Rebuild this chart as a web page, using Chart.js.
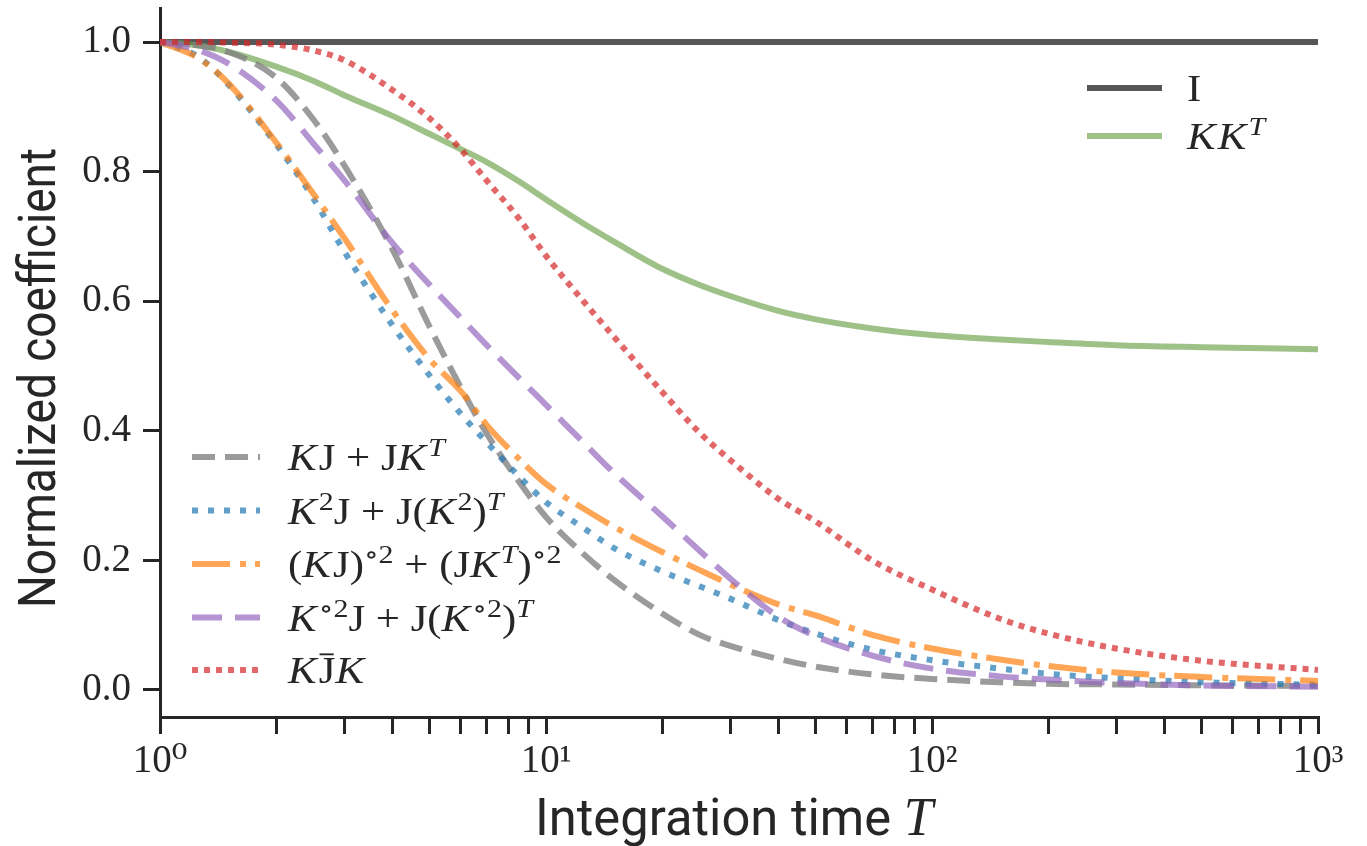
<!DOCTYPE html>
<html><head><meta charset="utf-8">
<script src="https://cdn.jsdelivr.net/npm/chart.js@4.4.1/dist/chart.umd.min.js"></script>
<style>html,body{margin:0;padding:0;background:#fff;}#wrap{width:1367px;height:846px;position:relative;}</style>
</head><body><div id="wrap"><canvas id="c"></canvas></div>
<script>
// ---- data ----
const T        = [1, 1.25, 1.5, 2, 2.5, 3, 4, 5, 6, 7, 8.5, 10, 12.5, 15, 20, 25, 30, 40, 50, 70, 100, 150, 200, 300, 500, 1000];
const yI       = [1, 1, 1, 1, 1, 1, 1, 1, 1, 1, 1, 1, 1, 1, 1, 1, 1, 1, 1, 1, 1, 1, 1, 1, 1, 1];
const yKKT     = [1.0, 0.995, 0.985, 0.962, 0.94, 0.918, 0.886, 0.858, 0.835, 0.815, 0.785, 0.757, 0.72, 0.692, 0.65, 0.625, 0.608, 0.585, 0.572, 0.558, 0.548, 0.541, 0.537, 0.532, 0.529, 0.526];
const yKJ      = [1.0, 0.995, 0.985, 0.945, 0.88, 0.81, 0.68, 0.56, 0.468, 0.397, 0.322, 0.267, 0.21, 0.17, 0.118, 0.085, 0.068, 0.048, 0.036, 0.024, 0.017, 0.012, 0.0095, 0.0085, 0.0072, 0.006];
const yK2J     = [1.0, 0.978, 0.935, 0.842, 0.758, 0.677, 0.563, 0.485, 0.427, 0.383, 0.33, 0.29, 0.25, 0.219, 0.183, 0.16, 0.141, 0.108, 0.087, 0.062, 0.046, 0.033, 0.025, 0.018, 0.012, 0.008];
const yKJsq    = [1.0, 0.976, 0.937, 0.845, 0.765, 0.698, 0.586, 0.51, 0.462, 0.41, 0.357, 0.318, 0.28, 0.252, 0.213, 0.185, 0.163, 0.132, 0.115, 0.085, 0.064, 0.047, 0.037, 0.027, 0.02, 0.014];
const yKsqJ    = [1.0, 0.988, 0.967, 0.91, 0.843, 0.787, 0.69, 0.625, 0.575, 0.533, 0.482, 0.44, 0.382, 0.335, 0.268, 0.215, 0.172, 0.113, 0.083, 0.053, 0.033, 0.021, 0.016, 0.011, 0.007, 0.005];
const yKJbarK  = [1.0, 1.0, 0.999, 0.996, 0.987, 0.972, 0.926, 0.882, 0.835, 0.787, 0.728, 0.67, 0.6, 0.545, 0.46, 0.397, 0.355, 0.295, 0.26, 0.2, 0.155, 0.11, 0.087, 0.064, 0.045, 0.031];

const yTicks = [0.0, 0.2, 0.4, 0.6, 0.8, 1.0];
const xMajor = [1, 10, 100, 1000];
const xTickLabels = ['10⁰', '10¹', '10²', '10³'];
const xTitle = 'Integration time ';
const xTitleVar = 'T';
const yTitle = 'Normalized coefficient';

// rich legend labels: [text, flags] i=italic, s=superscript, b=overbar
const lblI    = [['I']];
const lblKKT  = [['K','i'],['K','i'],['T','is']];
const lblKJ   = [['K','i'],['J'],[' + '],['J'],['K','i'],['T','is']];
const lblK2J  = [['K','i'],['2','s'],['J'],[' + '],['J('],['K','i'],['2','s'],[')'],['T','is']];
const lblKJsq = [['('],['K','i'],['J)'],['∘2','s'],[' + ('],['J'],['K','i'],['T','is'],[')'],['∘2','s']];
const lblKsqJ = [['K','i'],['∘2','s'],['J'],[' + '],['J('],['K','i'],['∘2','s'],[')'],['T','is']];
const lblKJK  = [['K','i'],['J','b'],['K','i']];

const pts = ys => T.map((t, i) => ({x: t, y: ys[i]}));
const LW = 6;
const datasets = [
  {label:'KJ̄K', data: pts(yKJbarK), borderColor:'rgba(214,39,40,0.7)', borderDash:[6,6], rich: lblKJK},
  {label:'K∘²J + J(K∘²)ᵀ', data: pts(yKsqJ), borderColor:'rgba(148,103,189,0.7)', borderDash:[30,13], rich: lblKsqJ},
  {label:'(KJ)∘² + (JKᵀ)∘²', data: pts(yKJsq), borderColor:'rgba(255,127,14,0.7)', borderDash:[38,10,6,9], rich: lblKJsq},
  {label:'K²J + J(K²)ᵀ', data: pts(yK2J), borderColor:'rgba(31,119,180,0.7)', borderDash:[6,10], rich: lblK2J},
  {label:'KJ + JKᵀ', data: pts(yKJ), borderColor:'rgba(127,127,127,0.78)', borderDash:[23,10], rich: lblKJ},
  {label:'KKᵀ', data: pts(yKKT), borderColor:'rgba(106,160,72,0.65)', borderDash:[], rich: lblKKT},
  {label:'I', data: pts(yI), borderColor:'#575757', borderDash:[], rich: lblI}
].map(d => Object.assign(d, {borderWidth: LW, pointRadius: 0, fill: false, cubicInterpolationMode: 'monotone', borderCapStyle: 'butt'}));

const SERIF = '"Liberation Serif", "DejaVu Serif", serif';
const SANS = 'Roboto, "DejaVu Sans", sans-serif';
const INK = '#262626';

function richWidth(ctx, segs, size) {
  let w = 0;
  for (const s of segs) {
    const f = s[1] || '';
    const fs = f.includes('s') ? size * 0.7 : size;
    ctx.font = (f.includes('i') ? 'italic ' : '') + fs + 'px ' + SERIF;
    w += ctx.measureText(s[0]).width + (f.includes('i') && !f.includes('s') ? size * 0.05 : 0);
  }
  return w;
}
function drawRich(ctx, segs, x, base, size, sx) {
  ctx.save();
  ctx.translate(x, base);
  ctx.scale(sx, 1);
  ctx.fillStyle = INK;
  ctx.textBaseline = 'alphabetic';
  ctx.textAlign = 'left';
  let cx = 0;
  for (const s of segs) {
    const f = s[1] || '';
    const sup = f.includes('s');
    const fs = sup ? size * 0.7 : size;
    ctx.font = (f.includes('i') ? 'italic ' : '') + fs + 'px ' + SERIF;
    const dy = sup ? -size * 0.37 : 0;
    ctx.fillText(s[0], cx, dy);
    const w = ctx.measureText(s[0]).width;
    if (f.includes('b')) ctx.fillRect(cx + w * 0.05, -size * 0.8, w * 0.85, size * 0.05);
    cx += w + (f.includes('i') && !sup ? size * 0.05 : 0);
  }
  ctx.restore();
}

const decorPlugin = {
  id: 'decor',
  beforeDraw(chart) {
    const ctx = chart.ctx;
    ctx.save(); ctx.fillStyle = '#fff'; ctx.fillRect(0, 0, chart.width, chart.height); ctx.restore();
  },
  afterDraw(chart) {
    const ctx = chart.ctx;
    const size = 37;
    const sx = 157 / richWidth(ctx, lblKJ, size);
    const groups = [
      {x0: 1087, x1: 1162, tx: 1187, ys: [88, 136]},
      {x0: 192, x1: 260, tx: 288, ys: [457, 510.5, 564, 617.5, 670]}
    ];
    const order = [[6, 5], [4, 3, 2, 1, 0]];
    order.forEach((idxs, g) => {
      const G = groups[g];
      idxs.forEach((di, r) => {
        const ds = chart.data.datasets[di];
        const y = G.ys[r];
        ctx.save();
        ctx.strokeStyle = ds.borderColor; ctx.lineWidth = LW; ctx.lineCap = 'butt';
        ctx.setLineDash(ds.borderDash);
        ctx.beginPath(); ctx.moveTo(G.x0, y); ctx.lineTo(G.x1, y); ctx.stroke();
        ctx.restore();
        drawRich(ctx, ds.rich, G.tx, y + 13, size, sx);
      });
    });
    // axis titles
    ctx.save();
    ctx.fillStyle = INK;
    ctx.font = '52px ' + SANS;
    const wy = ctx.measureText(yTitle).width;
    const syy = 460 / wy;
    ctx.translate(55, 378); ctx.rotate(-Math.PI / 2); ctx.scale(syy, 1);
    ctx.textAlign = 'center'; ctx.textBaseline = 'alphabetic';
    ctx.fillText(yTitle, 0, 0);
    ctx.restore();

    ctx.save();
    ctx.fillStyle = INK;
    ctx.font = '52px ' + SANS;
    const w1 = ctx.measureText(xTitle).width;
    ctx.font = 'italic 54px ' + SERIF;
    const w2 = ctx.measureText(xTitleVar).width;
    const sxx = 398 / (w1 + w2);
    ctx.translate(734 - 199, 835); ctx.scale(sxx, 1);
    ctx.textAlign = 'left'; ctx.textBaseline = 'alphabetic';
    ctx.font = '52px ' + SANS;
    ctx.fillText(xTitle, 0, 0);
    ctx.font = 'italic 54px ' + SERIF;
    ctx.fillText(xTitleVar, w1, 0);
    ctx.restore();
  }
};

const xTickVals = [];
[1, 10, 100].forEach(d => { for (let m = 1; m < 10; m++) xTickVals.push(m * d); });
xTickVals.push(1000);

const gridOpts = {drawOnChartArea: false, drawTicks: true, tickLength: 17, tickColor: INK, tickWidth: 3, color: INK, lineWidth: 3};
const noPad = s => { s.paddingTop = 0; s.paddingBottom = 0; s.paddingLeft = 0; s.paddingRight = 0; };

new Chart(document.getElementById('c'), {
  type: 'line',
  data: {datasets},
  options: {
    responsive: true, maintainAspectRatio: false, animation: false,
    layout: {padding: {left: 0, right: 49, top: 8, bottom: 0}},
    plugins: {legend: {display: false}, tooltip: {enabled: false}},
    scales: {
      x: {
        type: 'logarithmic', position: 'bottom', min: 1, max: 1000,
        afterBuildTicks: s => { s.ticks = xTickVals.map(v => ({value: v, major: xMajor.includes(v)})); },
        afterFit: s => { s.height = 129; noPad(s); },
        ticks: {autoSkip: false, maxRotation: 0, color: INK, padding: 4,
          font: {family: SERIF, size: 39},
          callback: v => { const i = xMajor.indexOf(v); return i >= 0 ? xTickLabels[i] : ''; }},
        grid: gridOpts,
        border: {display: true, color: INK, width: 3}
      },
      y: {
        type: 'linear', min: -0.0417, max: 1.0525,
        afterBuildTicks: s => { s.ticks = yTicks.map(v => ({value: v})); },
        afterFit: s => { s.width = 160; noPad(s); },
        ticks: {color: INK, padding: 12, font: {family: SERIF, size: 39},
          callback: v => Number(v).toFixed(1)},
        grid: gridOpts,
        border: {display: true, color: INK, width: 3}
      }
    }
  },
  plugins: [decorPlugin]
});
</script>
</body></html>
